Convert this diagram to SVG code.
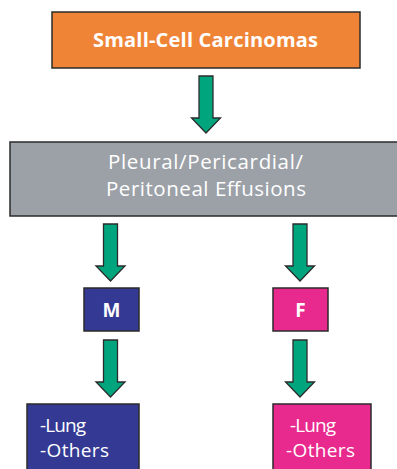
<svg xmlns="http://www.w3.org/2000/svg" width="397" height="469" viewBox="0 0 397 469">
  <style>
    .box { stroke: #2b2b2b; stroke-width: 1.5; }
    .arrow { fill: #00A57E; stroke: #2b2b2b; stroke-width: 1.3; stroke-linejoin: miter; }
    text { fill: #ffffff; font-family: "Comic Sans MS", "Open Sans", "DejaVu Sans", sans-serif; }
    .bold { font-weight: bold; }
  </style>
  <defs>
    <!-- block arrow pointing down, origin at top-centre of shaft -->
    <path id="downArrow" d="M -7 0 H 7 V 42 H 14.5 L 0 57 L -14.5 42 H -7 Z"/>
  </defs>
  <rect width="397" height="469" fill="#ffffff"/>

  <g id="connectors">
    <use href="#downArrow" class="arrow" x="206" y="76"/>
    <use href="#downArrow" class="arrow" x="110.5" y="224"/>
    <use href="#downArrow" class="arrow" x="300" y="224"/>
    <use href="#downArrow" class="arrow" x="110.5" y="340"/>
    <use href="#downArrow" class="arrow" x="300" y="340"/>
  </g>

  <g id="small-cell">
    <rect class="box" x="52" y="12" width="308" height="56" fill="#F08436"/>
    <text class="bold" x="93" y="47" font-size="20" textLength="225" lengthAdjust="spacing">Small-Cell Carcinomas</text>
  </g>

  <g id="effusions">
    <rect class="box" x="10" y="142" width="392" height="74" fill="#9CA1A8"/>
    <text x="108" y="169" font-size="20.5" textLength="195" lengthAdjust="spacing">Pleural/Pericardial/</text>
    <text x="106" y="196" font-size="20.5" textLength="200" lengthAdjust="spacing">Peritoneal Effusions</text>
  </g>

  <g id="male">
    <rect class="box" x="84" y="288" width="55" height="43" fill="#343A94"/>
    <text class="bold" x="111.5" y="317" font-size="19" text-anchor="middle">M</text>
  </g>

  <g id="female">
    <rect class="box" x="273" y="288" width="55" height="43" fill="#E8298E"/>
    <text class="bold" x="300.5" y="317" font-size="19" text-anchor="middle">F</text>
  </g>

  <g id="male-sites">
    <rect class="box" x="27" y="404" width="112" height="70" fill="#343A94"/>
    <text x="40" y="432" font-size="19" textLength="46" lengthAdjust="spacing">-Lung</text>
    <text x="40" y="457" font-size="19" textLength="69" lengthAdjust="spacing">-Others</text>
  </g>

  <g id="female-sites">
    <rect class="box" x="273" y="404" width="98" height="70" fill="#E8298E"/>
    <text x="290" y="432" font-size="19" textLength="46" lengthAdjust="spacing">-Lung</text>
    <text x="286" y="457" font-size="19" textLength="69" lengthAdjust="spacing">-Others</text>
  </g>
</svg>
